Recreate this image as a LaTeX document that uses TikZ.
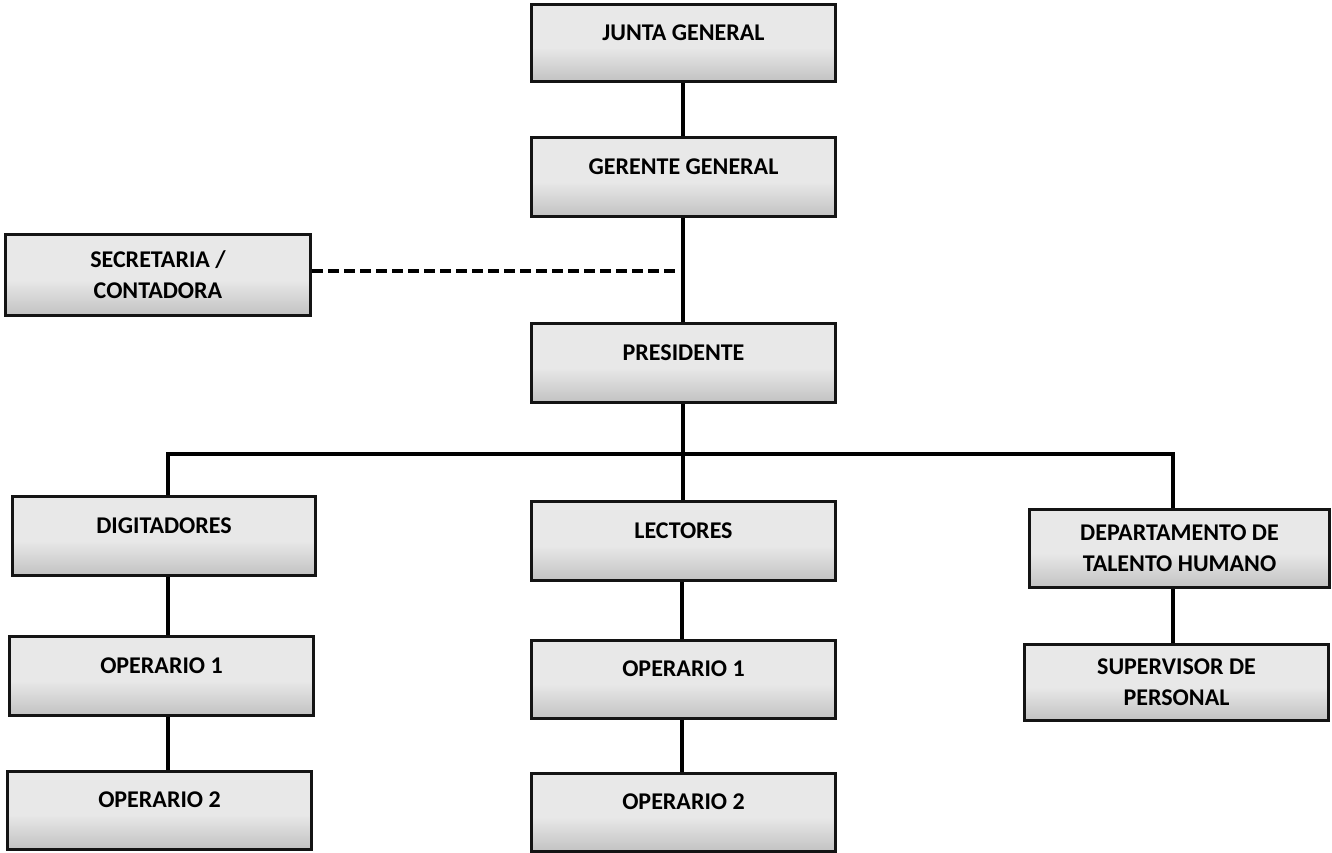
\documentclass[tikz,border=0pt]{standalone}
\usepackage{fontspec}
\setmainfont{Carlito}
\definecolor{boxtop}{RGB}{232,232,232}
\definecolor{boxbot}{RGB}{194,194,194}
% light grey fill that darkens towards the bottom edge of each box
\pgfdeclareverticalshading{boxshade}{100bp}{color(0bp)=(boxbot); color(25bp)=(boxbot); color(47bp)=(boxtop); color(75bp)=(boxtop); color(100bp)=(boxtop)}
\tikzset{
  orgbox/.style={draw=black!92, line width=3pt, shading=boxshade,
    minimum width=304pt, minimum height=79pt, inner sep=0pt,
    font=\fontsize{24}{31}\selectfont\bfseries, align=center},
  lbl/.style={font=\fontsize{24}{31}\selectfont\bfseries, inner sep=0pt},
  conn/.style={line width=3.4pt, black, line join=miter},
  dotted link/.style={line width=4pt, black, dash pattern=on 11pt off 5pt}
}
\begin{document}
\begin{tikzpicture}[x=1pt, y=-1pt]
  \fill[white] (0,0) rectangle (1332,853);
  \useasboundingbox (0,0) rectangle (1332,853);

  % boxes
  \node[orgbox, minimum height=77pt] (jg) at (683.5,43) {};
  \node[orgbox] (gg) at (683.5,177) {};
  \node[orgbox, minimum width=305pt, minimum height=81pt] (sec) at (158,275) {SECRETARIA /\\CONTADORA};
  \node[orgbox] (pres) at (683.5,363) {};
  \node[orgbox, minimum width=303pt] (dig) at (164,536) {};
  \node[orgbox] (lec) at (683.5,541) {};
  \node[orgbox, minimum width=300pt, minimum height=78pt] (dep) at (1179.5,548.5) {DEPARTAMENTO DE\\TALENTO HUMANO};
  \node[orgbox, minimum height=76pt] (sup) at (1176.5,682.5) {SUPERVISOR DE\\PERSONAL};
  \node[orgbox] (opAa) at (161.5,676) {};
  \node[orgbox, minimum height=78pt] (opBa) at (683.5,679.5) {};
  \node[orgbox, minimum height=78pt] (opAb) at (159.5,810) {};
  \node[orgbox, minimum height=78pt] (opBb) at (683.5,812.5) {};

  % single-line titles sit in the upper part of their boxes
  \node[lbl] (jg-t)   at ([yshift=10.5pt]jg.center)   {JUNTA GENERAL};
  \node[lbl] (gg-t)   at ([yshift=10.5pt]gg.center)   {GERENTE GENERAL};
  \node[lbl] (pres-t) at ([yshift=10.5pt]pres.center) {PRESIDENTE};
  \node[lbl] (dig-t)  at ([yshift=10.5pt]dig.center)  {DIGITADORES};
  \node[lbl] (lec-t)  at ([yshift=10.5pt]lec.center)  {LECTORES};
  \node[lbl] (opAa-t) at ([yshift=10.5pt]opAa.center) {OPERARIO 1};
  \node[lbl] (opBa-t) at ([yshift=10.5pt]opBa.center) {OPERARIO 1};
  \node[lbl] (opAb-t) at ([yshift=10.5pt]opAb.center) {OPERARIO 2};
  \node[lbl] (opBb-t) at ([yshift=10.5pt]opBb.center) {OPERARIO 2};

  % junction points of the connectors
  \coordinate (bus)  at (683,454);
  \coordinate (busL) at (168,454);
  \coordinate (busR) at (1173,454);
  \coordinate (staff) at (676,271);
  \coordinate (colM) at (682,0);

  % main chain
  \draw[conn] (jg.south -| bus) -- (gg.north -| bus);
  \draw[conn] (gg.south -| bus) -- (pres.north -| bus);
  \draw[dotted link] (sec.east |- staff) -- (staff);

  % distribution bar
  \draw[conn] (pres.south -| bus) -- (bus);
  \draw[conn] (dig.north -| busL) -- (busL) -- (busR) -- (dep.north -| busR);
  \draw[conn] (bus) -- (lec.north -| bus);

  % branches
  \draw[conn] (dig.south -| busL) -- (opAa.north -| busL);
  \draw[conn] (opAa.south -| busL) -- (opAb.north -| busL);
  \draw[conn] (lec.south -| colM) -- (opBa.north -| colM);
  \draw[conn] (opBa.south -| colM) -- (opBb.north -| colM);
  \draw[conn] (dep.south -| busR) -- (sup.north -| busR);
\end{tikzpicture}
\end{document}
